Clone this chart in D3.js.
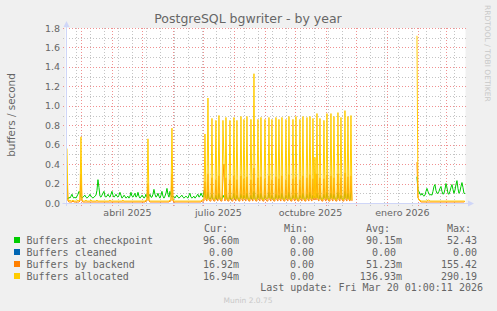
<!DOCTYPE html>
<html>
<head>
<meta charset="utf-8">
<script src="https://cdnjs.cloudflare.com/ajax/libs/d3/7.8.5/d3.min.js"></script>
<style>
  body { margin: 0; background: #f0f0f0; }
  svg { display: block; }
  text { font-family: "DejaVu Sans", sans-serif; fill: #666; }
  .mono { font-family: "DejaVu Sans Mono", monospace; }
</style>
</head>
<body>
<div id="chart"></div>
<script>
// daily values, one per day from each run start (gap between the two runs)
const runStarts = [Date.UTC(2025, 1, 14, 12), Date.UTC(2026, 0, 30, 12)];

const checkpointA = [
  .05,.04,.06,.05,.07,.09,.06,.05,.06,.05, .07,.09,.12,.11,.06,.05,.06,.07,.08,.06,
  .05,.06,.07,.09,.07,.06,.05,.06,.07,.08, .13,.24,.16,.07,.06,.08,.10,.12,.07,.06,
  .07,.09,.07,.06,.09,.12,.08,.06,.07,.09, .07,.06,.08,.11,.08,.05,.06,.08,.07,.05,
  .06,.07,.05,.07,.11,.07,.06,.08,.10,.06, .07,.11,.07,.05,.06,.08,.07,.05,.06,.09,
  .06,.05,.07,.09,.06,.06,.09,.14,.09,.06, .07,.10,.07,.05,.08,.12,.07,.05,.07,.10,
  .15,.09,.06,.12,.08,.06,.07,.06,.05,.07, .08,.06,.05,.06,.07,.08,.06,.05,.06,.07,
  .06,.05,.08,.10,.06,.05,.06,.07,.05,.06, .08,.09,.06,.07,.10,.08,.06,.12,
  .10,.05,.04,.11,.05,.04,.05,.09,.04,.03, .04,.08,.04,.04,.10,.05,.03,.04,.08,.06,
  .04,.09,.05,.03,.04,.08,.04,.04,.05,.10, .04,.04,.08,.05,.03,.04,.09,.05,.04,.08,
  .05,.04,.10,.05,.03,.04,.08,.04,.04,.12, .05,.03,.04,.09,.05,.04,.10,.05,.03,.04,
  .08,.05,.04,.05,.11,.05,.04,.08,.05,.03, .04,.09,.05,.04,.08,.05,.04,.10,.05,.03,
  .04,.08,.05,.04,.11,.05,.03,.04,.08,.05, .04,.10,.05,.03,.04,.08,.05,.04,.10,.05,
  .03,.04,.09,.05,.04,.11,.05,.04,.08,.05, .07,.05,.10,.05,.04,.08,.05,.03,.04,.09,
  .05,.04,.11,.05,.03,.04,.10,.05,.04,.09, .05,.03,.04,.11,.05,.04,.08,.05,.03,.04,
  .12,.05,.04,.10,.05,.03,.11,.12
];
const checkpointB = [
  .27,.13,.12,.09,.08,.10,.08,.07,.08,.12, .15,.12,.09,.08,.09,.08,.12,.17,.19,.13,
  .10,.10,.12,.15,.17,.12,.09,.10,.14,.20, .16,.10,.09,.12,.16,.19,.14,.10,.13,.19,
  .23,.15,.10,.12,.17,.21,.16,.10,.097
];

const backendA = [
  .30,.02,.01,.01,.01,.01,.02,.01,.01,.01, .01,.01,.01,.02,.30,.02,.01,.01,.01,.01,
  .01,.01,.01,.01,.01,.01,.01,.01,.01,.01, .01,.01,.01,.01,.01,.01,.01,.01,.01,.01,
  .01,.01,.01,.01,.01,.01,.01,.01,.01,.01, .01,.01,.01,.01,.01,.01,.01,.01,.01,.01,
  .01,.01,.01,.01,.01,.01,.01,.01,.01,.01, .01,.01,.01,.01,.01,.01,.01,.01,.01,.02,
  .02,.20,.02,.01,.01,.01,.01,.01,.01,.01, .01,.01,.01,.01,.01,.01,.01,.01,.01,.01,
  .01,.01,.01,.02,.02,.30,.02,.01,.01,.01, .01,.01,.01,.01,.01,.01,.01,.01,.01,.01,
  .01,.01,.01,.01,.01,.01,.01,.01,.01,.01, .01,.01,.01,.01,.01,.02,.02,.02,
  .22,.03,.02,.30,.03,.02,.02,.26,.03,.02, .02,.24,.03,.02,.28,.03,.02,.02,.26,.40,
  .02,.26,.03,.02,.02,.24,.03,.02,.02,.28, .03,.02,.24,.03,.02,.02,.28,.03,.02,.25,
  .03,.02,.27,.03,.02,.02,.24,.03,.02,.36, .03,.02,.02,.26,.03,.02,.27,.03,.02,.02,
  .25,.03,.02,.02,.28,.03,.02,.24,.03,.02, .02,.27,.03,.02,.25,.03,.02,.28,.03,.02,
  .02,.24,.03,.02,.29,.03,.02,.02,.25,.03, .02,.27,.03,.02,.02,.24,.03,.02,.28,.03,
  .02,.02,.26,.03,.02,.29,.03,.02,.25,.03, .30,.03,.30,.03,.02,.26,.03,.02,.02,.25,
  .03,.02,.29,.03,.02,.02,.28,.03,.02,.26, .03,.02,.02,.30,.03,.02,.26,.03,.02,.02,
  .31,.03,.02,.27,.03,.02,.28,.02
];
const backendB = [
  .42,.05,.04,.02,.01,.01,.01,.01,.01,.01, .01,.01,.01,.01,.01,.01,.01,.01,.01,.01,
  .01,.01,.01,.01,.01,.01,.01,.01,.01,.01, .01,.01,.01,.01,.01,.01,.01,.01,.01,.01,
  .01,.01,.01,.01,.01,.01,.01,.01,.017
];

const allocatedA = [
  .56,.03,.02,.03,.02,.02,.03,.02,.02,.02, .02,.03,.02,.03,.68,.03,.02,.02,.02,.03,
  .02,.02,.02,.02,.03,.02,.02,.02,.02,.02, .03,.02,.02,.02,.02,.02,.02,.02,.02,.02,
  .02,.02,.02,.03,.02,.02,.02,.02,.02,.02, .02,.02,.02,.02,.02,.02,.03,.02,.02,.02,
  .02,.02,.02,.02,.02,.02,.02,.02,.02,.02, .02,.02,.02,.02,.02,.02,.02,.02,.02,.03,
  .03,.66,.03,.02,.02,.02,.02,.02,.02,.02, .02,.02,.02,.02,.02,.02,.02,.02,.02,.02,
  .02,.02,.02,.03,.03,.77,.03,.02,.02,.02, .02,.02,.02,.02,.02,.02,.02,.02,.02,.02,
  .02,.02,.02,.02,.02,.02,.02,.02,.02,.02, .02,.02,.02,.02,.02,.03,.03,.04,
  .71,.05,.04,1.08,.05,.03,.04,.87,.05,.03, .04,.85,.05,.04,.90,.05,.03,.04,.85,.42,
  .04,.88,.05,.03,.04,.85,.05,.04,.05,.88, .05,.04,.85,.05,.03,.04,.89,.05,.04,.86,
  .05,.04,.89,.05,.03,.04,.86,.05,.04,1.33, .05,.03,.04,.86,.05,.04,.88,.05,.03,.04,
  .86,.05,.04,.05,.88,.05,.04,.86,.05,.03, .04,.88,.05,.04,.86,.05,.04,.88,.05,.03,
  .04,.86,.05,.04,.89,.05,.03,.04,.86,.05, .04,.89,.05,.03,.04,.86,.05,.04,.89,.05,
  .03,.04,.88,.05,.04,.89,.05,.04,.87,.05, .47,.05,.92,.05,.04,.87,.05,.03,.04,.85,
  .05,.04,.92,.05,.03,.04,.92,.05,.04,.89, .05,.03,.04,.93,.05,.04,.88,.05,.03,.04,
  .95,.05,.04,.89,.05,.03,.90,.03
];
const allocatedB = [
  1.72,.06,.03,.03,.02,.02,.02,.02,.02,.02, .02,.03,.03,.02,.02,.02,.02,.02,.02,.02,
  .02,.02,.02,.02,.02,.02,.02,.02,.02,.02, .02,.02,.02,.02,.02,.02,.02,.02,.02,.02,
  .02,.02,.02,.02,.02,.02,.02,.02,.017
];

const seriesNames = ["Buffers at checkpoint", "Buffers cleaned", "Buffers by backend", "Buffers allocated"];
const seriesColors = ["#00cc00", "#0066b3", "#ff8000", "#ffcc00"];
const curValues = ["96.60m", "0.00", "16.92m", "16.94m"];
const minValues = ["0.00", "0.00", "0.00", "0.00"];
const avgValues = ["90.15m", "0.00", "51.23m", "136.93m"];
const maxValues = ["52.43", "0.00", "155.42", "290.19"];

const xLabelNames = ["abril 2025", "julio 2025", "octubre 2025", "enero 2026"];
const xLabelDates = [Date.UTC(2025, 3, 16), Date.UTC(2025, 6, 16), Date.UTC(2025, 9, 16), Date.UTC(2026, 0, 16)];
const yTickValues = [0, 0.2, 0.4, 0.6, 0.8, 1.0, 1.2, 1.4, 1.6, 1.8];

const DAY = 86400000;
const width = 497, height = 311;
const plot = { left: 65.5, right: 465.5, top: 28, bottom: 203 };

const svg = d3.select("#chart").append("svg")
    .attr("width", width)
    .attr("height", height);

svg.append("rect").attr("width", width).attr("height", height).attr("fill", "#f0f0f0");

const x = d3.scaleUtc()
    .domain([Date.UTC(2025, 1, 13, 1), Date.UTC(2026, 2, 20, 1)])
    .range([plot.left, plot.right]);
const y = d3.scaleLinear()
    .domain([0, 1.8])
    .range([plot.bottom, plot.top]);

// canvas
svg.append("rect")
    .attr("x", plot.left).attr("y", plot.top)
    .attr("width", plot.right - plot.left).attr("height", plot.bottom - plot.top)
    .attr("fill", "#ffffff");

const px = v => Math.round(v) + 0.5;
const grid = svg.append("g").attr("shape-rendering", "crispEdges");
const minorColor = "#c4c4c4", majorColor = "#f09090";

// minor grid
const minorY = d3.range(1, 18).map(i => i / 10).filter((d, i) => i % 2 === 0);
grid.selectAll(".hmin").data(minorY).join("line")
    .attr("x1", plot.left - 3).attr("x2", plot.right)
    .attr("y1", d => px(y(d))).attr("y2", d => px(y(d)))
    .attr("stroke", minorColor).attr("stroke-dasharray", "1,2");
const minorX = d3.utcMonday.range(new Date(Date.UTC(2025, 1, 24)), x.domain()[1], 2);
grid.selectAll(".vmin").data(minorX).join("line")
    .attr("x1", d => px(x(d))).attr("x2", d => px(x(d)))
    .attr("y1", plot.top).attr("y2", plot.bottom + 3)
    .attr("stroke", minorColor).attr("stroke-dasharray", "1,2");

// major grid
grid.selectAll(".hmaj").data(yTickValues.filter(d => d > 0)).join("line")
    .attr("x1", plot.left - 3).attr("x2", plot.right)
    .attr("y1", d => px(y(d))).attr("y2", d => px(y(d)))
    .attr("stroke", majorColor).attr("stroke-dasharray", "1,2");
const majorX = d3.utcMonth.range(x.domain()[0], x.domain()[1]);
grid.selectAll(".vmaj").data(majorX).join("line")
    .attr("x1", d => px(x(d))).attr("x2", d => px(x(d)))
    .attr("y1", plot.top).attr("y2", plot.bottom + 3)
    .attr("stroke", majorColor).attr("stroke-dasharray", "1,2");

// data lines
function toPoints(values, start) {
    return values.map((v, i) => ({ t: new Date(start + i * DAY), v: v }));
}
const line = d3.line().x(d => x(d.t)).y(d => y(d.v));
const runs = [
    { name: 0, parts: [checkpointA, checkpointB] },
    { name: 2, parts: [backendA, backendB] },
    { name: 3, parts: [allocatedA, allocatedB] }
];
runs.forEach(r => {
    r.parts.forEach((vals, k) => {
        svg.append("path")
            .datum(toPoints(vals, runStarts[k]))
            .attr("fill", "none")
            .attr("stroke", seriesColors[r.name])
            .attr("stroke-width", 1)
            .attr("d", line);
    });
});

// axes with arrows
const axisColor = "#cfd6f8";
svg.append("line")
    .attr("x1", plot.left - 3).attr("x2", 469)
    .attr("y1", px(y(0))).attr("y2", px(y(0)))
    .attr("stroke", axisColor);
svg.append("path")
    .attr("d", "M468," + (px(y(0)) - 3) + "L474," + px(y(0)) + "L468," + (px(y(0)) + 3) + "Z")
    .attr("fill", axisColor);
svg.append("line")
    .attr("x1", px(plot.left)).attr("x2", px(plot.left))
    .attr("y1", plot.bottom + 3).attr("y2", 26)
    .attr("stroke", axisColor);
svg.append("path")
    .attr("d", "M" + (px(plot.left) - 3) + ",27L" + px(plot.left) + ",21L" + (px(plot.left) + 3) + ",27Z")
    .attr("fill", axisColor);

// tick labels
svg.selectAll(".ylab").data(yTickValues).join("text")
    .attr("x", 60).attr("y", d => y(d) + 3.5)
    .attr("text-anchor", "end")
    .style("font-size", "9.5px")
    .text(d => d3.format(".1f")(d));
svg.selectAll(".xlab").data(xLabelNames).join("text")
    .attr("x", (d, i) => x(xLabelDates[i]))
    .attr("y", 216)
    .attr("text-anchor", "middle")
    .style("font-size", "9.5px")
    .text(d => d);

// title and axis title
svg.append("text")
    .attr("x", 248).attr("y", 23)
    .attr("text-anchor", "middle")
    .style("font-size", "12.5px")
    .text("PostgreSQL bgwriter - by year");
svg.append("text")
    .attr("transform", "translate(15,115) rotate(-90)")
    .attr("text-anchor", "middle")
    .style("font-size", "10.4px")
    .text("buffers / second");
svg.append("text")
    .attr("transform", "translate(485,5) rotate(90)")
    .style("font-size", "7.5px")
    .style("fill", "#c8c8c8")
    .text("RRDTOOL / TOBI OETIKER");

// legend
const cw = 6.02;
const headers = [["Cur:", 204], ["Min:", 284], ["Avg:", 366], ["Max:", 447]];
svg.selectAll(".hdr").data(headers).join("text")
    .attr("class", "mono")
    .attr("x", d => d[1]).attr("y", 231.5)
    .style("font-size", "10px")
    .text(d => d[0]);

const cols = [[curValues, 239], [minValues, 320], [avgValues, 402]];
seriesNames.forEach((name, i) => {
    const by = 243.5 + i * 12;
    svg.append("rect")
        .attr("x", 14).attr("y", by - 6.5)
        .attr("width", 6).attr("height", 6)
        .attr("fill", seriesColors[i]);
    svg.append("text").attr("class", "mono")
        .attr("x", 26.5).attr("y", by)
        .style("font-size", "10px")
        .text(name);
    cols.forEach(c => {
        const s = c[0][i];
        const hasUnit = /[a-z]$/i.test(s);
        svg.append("text").attr("class", "mono")
            .attr("x", hasUnit ? c[1] : c[1] - cw).attr("y", by)
            .attr("text-anchor", "end")
            .style("font-size", "10px")
            .text(s);
    });
    svg.append("text").attr("class", "mono")
        .attr("x", 477).attr("y", by)
        .attr("text-anchor", "end")
        .style("font-size", "10px")
        .text(maxValues[i]);
});

svg.append("text").attr("class", "mono")
    .attr("x", 483).attr("y", 290.5)
    .attr("text-anchor", "end")
    .style("font-size", "10px")
    .text("Last update: Fri Mar 20 01:00:11 2026");
svg.append("text")
    .attr("x", 248).attr("y", 303)
    .attr("text-anchor", "middle")
    .style("font-size", "7.5px")
    .style("fill", "#c8c8c8")
    .text("Munin 2.0.75");
</script>
</body>
</html>
